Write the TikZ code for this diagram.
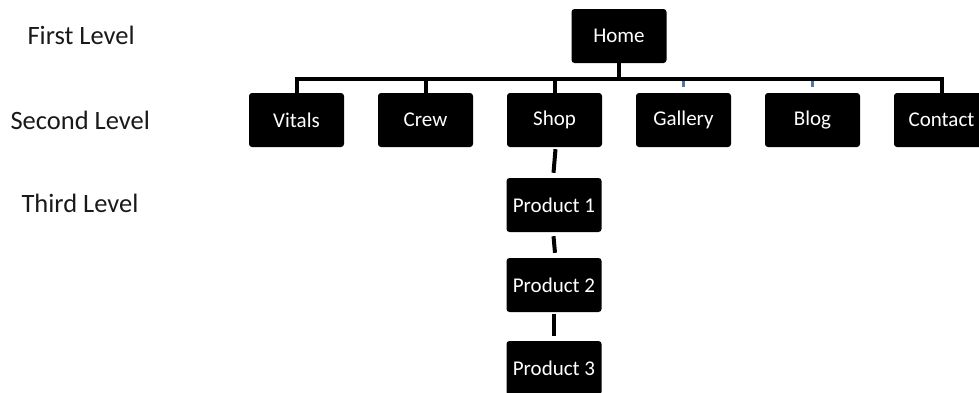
\documentclass[tikz,border=0pt]{standalone}
\usepackage{fontspec}
\setmainfont{Carlito}
\definecolor{tickblue}{RGB}{79,119,170}
\begin{document}
\begin{tikzpicture}[x=1pt,y=-1pt,
  box/.style={fill=black,text=white,rounded corners=3pt,minimum width=95pt,minimum height=54pt,inner sep=0pt,font=\fontsize{21}{25}\selectfont},
  lvl/.style={anchor=west,font=\fontsize{26.5}{31}\selectfont,text=black!90},
  conn/.style={line width=4pt,black},
  tick/.style={line width=3.5pt,tickblue}]
\useasboundingbox (0,0) rectangle (979,392);
\clip (0,0) rectangle (979,392);
\node[lvl] (l1) at (24,35) {First Level};
\node[lvl] (l2) at (7,120) {Second Level};
\node[lvl] (l3) at (18,203) {Third Level};
\node[box] (home) at (619,36) {Home};
\node[box] (vitals) at (296.5,120) {Vitals};
\node[box] (crew) at (425.5,120) {Crew};
\node[box] (shop) at (554.5,120) {Shop};
\node[box] (gallery) at (683.5,120) {Gallery};
\node[box] (blog) at (812.5,120) {Blog};
\node[box] (contact) at (941.5,120) {Contact};
\node[box] (p1) at (554,205) {Product 1};
\node[box] (p2) at (554,285) {Product 2};
\node[box] (p3) at (554,368) {Product 3};
\coordinate (bus) at (619,79);
\draw[conn] (home.south) -- (bus);
\draw[conn,line cap=rect] (vitals.north) -- (vitals.north |- bus) -- (contact.north |- bus) -- (contact.north);
\draw[conn] (crew.north) -- (crew.north |- bus);
\draw[conn] (shop.north) -- (shop.north |- bus);
\draw[tick] ([yshift=11.5pt]gallery.north) -- ([yshift=5.5pt]gallery.north);
\draw[tick] ([yshift=11.5pt]blog.north) -- ([yshift=5.5pt]blog.north);
\draw[conn] ([xshift=1pt,yshift=-2pt]shop.south) -- ([xshift=-0.5pt,yshift=5pt]p1.north);
\draw[conn] ([xshift=-0.5pt,yshift=-4pt]p1.south) -- ([xshift=1pt,yshift=5pt]p2.north);
\draw[conn] ([yshift=-2pt]p2.south) -- ([yshift=5pt]p3.north);
\end{tikzpicture}
\end{document}
